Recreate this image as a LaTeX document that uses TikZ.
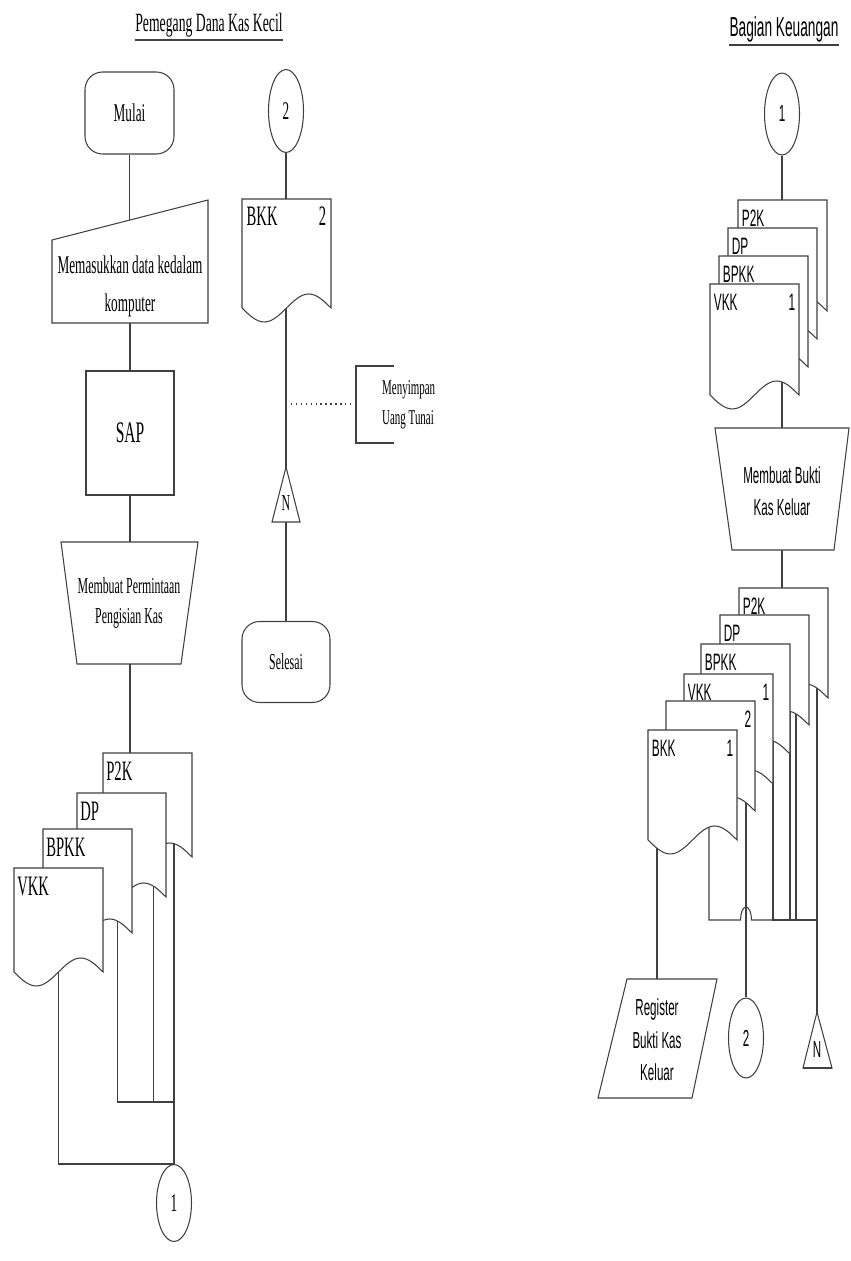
\documentclass[tikz,border=0pt]{standalone}
\usepackage{fontspec}
\usepackage{tikz}
\usetikzlibrary{positioning}
\usetikzlibrary{calc}
\usetikzlibrary{backgrounds}
\usetikzlibrary{shapes.geometric}

% narrow faces (the whole chart is stretched upwards)
\newfontfamily\serifnar[FakeStretch=0.52]{Liberation Serif}
\newfontfamily\sansnar[FakeStretch=0.5]{Liberation Sans}

% document symbol: #1 name, #2 top-left corner, #3 left label, #4 right label
\newcommand{\docpaper}[4]{%
  \node[docbox, anchor=north west] (#1) at #2 {};
  \draw[outl] (#1.north west) -- (#1.south west)
    sin ++(22.25,14) cos ++(22.25,-14) sin ++(22.25,-14) cos ++(22.25,14)
    -- (#1.north east) -- cycle;
  \node[doclbl, anchor=north west] (#1-a) at (#1.north west) {#3};
  \node[doclbl, anchor=north east] (#1-b) at (#1.north east) {#4};
}

\begin{document}
\begin{tikzpicture}[
    x=0.02cm, y=-0.02cm,
    outl/.style={draw=black!75, line width=0.6pt, fill=white},
    edge/.style={draw=black!75, line width=0.6pt},
    note/.style={draw=black!75, line width=0.8pt, dotted},
    uline/.style={draw=black!75, line width=0.9pt},
    term/.style={outl, rectangle, rounded corners=10pt, minimum width=1.78cm, minimum height=1.64cm, inner sep=0pt},
    conn/.style={outl, ellipse, minimum width=0.7cm, inner sep=0pt},
    proc/.style={outl, rectangle, minimum width=1.76cm, minimum height=2.48cm},
    docbox/.style={rectangle, minimum width=1.78cm, minimum height=2.08cm, inner sep=0pt, outer sep=0pt},
    doclbl/.style={font=\sansnar\fontsize{13.5}{14}\selectfont, inner xsep=2pt, inner ysep=5.5pt},
    % serif texts (left lane)
    ftTL/.style={font=\serifnar\fontsize{15}{18}\selectfont},
    ftL/.style={font=\serifnar\fontsize{14.5}{21.5}\selectfont},
    ftLs/.style={font=\serifnar\fontsize{13}{17}\selectfont},
    ftLn/.style={font=\serifnar\fontsize{12}{17}\selectfont},
    ftLb/.style={font=\serifnar\fontsize{17}{20}\selectfont},
    % sans texts (right lane)
    ftTR/.style={font=\sansnar\fontsize{15.6}{18}\selectfont},
    ftR/.style={font=\sansnar\fontsize{13.2}{18.4}\selectfont},
]
\useasboundingbox (0,0) rectangle (850,1261);

% =========================================================
% Lane titles
% =========================================================
\node[ftTL, inner sep=0pt] (ttlL) at (209,25) {Pemegang Dana Kas Kecil};
\draw[uline] ([yshift=-1.5pt]ttlL.south west) -- ([yshift=-1.5pt]ttlL.south east);

\node[ftTR, inner sep=0pt] (ttlR) at (784,29) {Bagian Keuangan};
\draw[uline] ([yshift=-1.5pt]ttlR.south west) -- ([yshift=-1.5pt]ttlR.south east);

% =========================================================
% Pemegang Dana Kas Kecil: main column
% =========================================================
\node[term, ftL] (mulai) at (129.5,113) {Mulai};

% manual input
\draw[outl] (52,240) -- (208,200) -- (208,323) -- (52,323) -- cycle;
\node[ftL, align=center] (inp) at (130,286) {Memasukkan data kedalam\\komputer};

\node[proc, ftLb] (sap) at (130,433) {SAP};

% manual operation
\draw[outl] (61,542) -- (198,542) -- (181,664) -- (77,664) -- cycle;
\node[ftLs, align=center] (mpk) at (129,603) {Membuat Permintaan\\Pengisian Kas};

% documents (back to front)
\begin{scope}[doclbl/.style={font=\serifnar\fontsize{16}{16}\selectfont, inner xsep=1.7pt, inner ysep=5pt}]
\docpaper{p2kL}{(103,753)}{P2K}{}
\docpaper{dpL}{(77,793)}{DP}{}
\docpaper{bpkkL}{(43,829)}{BPKK}{}
\docpaper{vkkL}{(14,868)}{VKK}{}
\end{scope}

\node[conn, minimum height=1.54cm, ftL] (c1L) at (174,1203) {1};
\coordinate (jL) at (174,1102);

% =========================================================
% Pemegang Dana Kas Kecil: second column
% =========================================================
\node[conn, minimum height=1.66cm, ftL] (c2L) at (286,111) {2};

\begin{scope}[docbox/.append style={minimum height=2.18cm},
    doclbl/.style={font=\serifnar\fontsize{16}{16}\selectfont, inner xsep=2.5pt, inner ysep=4.5pt}]
\docpaper{bkkL}{(242,199)}{BKK}{2}
\end{scope}

% annotation
\draw[edge] (394,366) -- (356,366) -- (356,443) -- (394,443);
\coordinate (annL) at (356,404);
\node[ftLn, align=left, anchor=west] (ann) at (376,405) {Menyimpan\\Uang Tunai};

% archive
\draw[outl] (286,467) -- (300,522) -- (272,522) -- cycle;
\node[ftLs, inner sep=1pt] (nL) at (286,503) {N};

\node[term, ftLs, minimum width=1.76cm, minimum height=1.62cm] (selesai) at (286,662) {Selesai};

% =========================================================
% Bagian Keuangan
% =========================================================
\node[conn, minimum height=1.64cm, ftR] (c1R) at (782,114) {1};

\begin{scope}[docbox/.append style={minimum height=2.22cm}]
\docpaper{p2kRa}{(738,200)}{P2K}{}
\docpaper{dpRa}{(728,228)}{DP}{}
\docpaper{bpkkRa}{(719,256)}{BPKK}{}
\docpaper{vkkRa}{(710,284)}{VKK}{1}
\end{scope}

% manual operation
\draw[outl] (715,428) -- (849,428) -- (834,550) -- (732,550) -- cycle;
\node[ftR, align=center] (mbk) at (782,491) {Membuat Bukti\\Kas Keluar};

\begin{scope}[docbox/.append style={minimum height=2.2cm}]
\docpaper{p2kRb}{(739,588)}{P2K}{}
\docpaper{dpRb}{(720,615)}{DP}{}
\docpaper{bpkkRb}{(701,644)}{BPKK}{}
\docpaper{vkkRb}{(684,674)}{VKK}{1}
\docpaper{bkk2R}{(666,701)}{}{2}
\docpaper{bkk1R}{(648,730)}{BKK}{1}
\end{scope}

% register (input/output)
\draw[outl] (627,979) -- (717,979) -- (692,1098) -- (598,1098) -- cycle;
\node[ftR, align=center] (reg) at (657,1040) {Register\\Bukti Kas\\Keluar};

\node[conn, minimum height=1.6cm, ftR] (c2R) at (746,1038) {2};

\draw[outl] (817,1012) -- (832,1068) -- (803,1068) -- cycle;
\draw[edge, line width=1.2pt] (803,1068) -- (832,1068);
\node[ftR, inner sep=1pt] (nR) at (817,1050) {N};
\coordinate (jR) at (817,920);

% =========================================================
% connectors (behind the symbols)
% =========================================================
\begin{scope}[on background layer]
\fill[white] (0,0) rectangle (850,1261);

\draw[edge] (mulai.south) -- (mulai.south |- inp.north);
\draw[edge] (sap.north |- inp.south) -- (sap.north);
\draw[edge] (sap.south) -- (sap.south |- mpk.north);
\draw[edge] (sap.south |- mpk.south) -- (sap.south |- p2kL.north);

\draw[edge] (c1L |- p2kL.center) -- (c1L.north);
\draw[edge] ($(dpL.center)+(32,0)$) |- (jL);
\draw[edge] ($(bpkkL.center)+(30,0)$) |- (jL);
\draw[edge] (vkkL.center) |- (c1L.north);

\draw[edge] (c2L.south) -- (c2L.south |- bkkL.north);
\draw[edge] (c2L |- bkkL.center) -- (nL);
\draw[edge] (nL) -- (selesai);
\draw[note] (annL -| c2L) -- (annL);

\draw[edge] (c1R.south) -- (c1R.south |- p2kRa.north);
\draw[edge] (c1R |- vkkRa.center) -- (c1R |- mbk.north);
\draw[edge] (c1R |- mbk.south) -- (c1R |- p2kRb.north);

\draw[edge] (reg |- bkk1R.center) -- (reg.north);
\draw[edge] (c2R |- bkk2R.center) -- (c2R.north);
\draw[edge] (nR |- p2kRb.center) -- (nR);
\draw[edge] ($(dpRb.center)+(31.5,0)$) |- (jR);
\draw[edge] ($(bpkkRb.center)+(44.5,0)$) |- (jR);
\draw[edge] ($(vkkRb.center)+(44.5,0)$) |- (jR);
\draw[edge] ($(bkk1R.center)+(16.5,0)$) |- ($(c2R |- jR)+(-5.5,0)$)
    arc[start angle=180, end angle=360, x radius=5.5, y radius=13] -- (jR);
\end{scope}

\end{tikzpicture}
\end{document}
